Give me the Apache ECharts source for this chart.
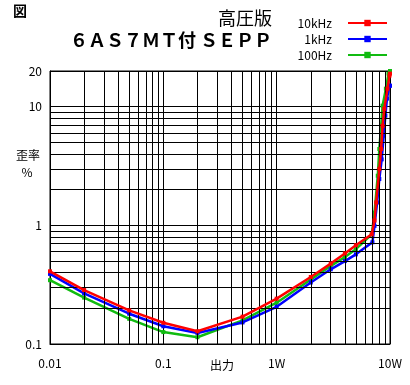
<!DOCTYPE html>
<html><head><meta charset="utf-8">
<script src="https://cdn.jsdelivr.net/npm/echarts@6/dist/echarts.min.js"></script>
<style>html,body{margin:0;padding:0;background:#fff}#c{width:410px;height:385px}</style>
</head><body><div id="c"></div>
<script>
// ---- data ----
const seriesNames = ['10kHz', '1kHz', '100Hz'];
const seriesColors = ['#ff0000', '#0000ff', '#11bb11'];

const power10k = [0.01, 0.02, 0.05, 0.1, 0.2, 0.5, 1, 2, 3, 4, 5, 6.9, 7.3, 7.55, 8.05, 8.35, 8.6, 8.9, 9.5, 9.9, 10];
const thd10k   = [0.41, 0.285, 0.192, 0.151, 0.128, 0.17, 0.241, 0.367, 0.476, 0.58, 0.68, 0.84, 1.1, 1.56, 2.99, 4.41, 6.9, 9.6, 14.2, 18.3, 19];

const power1k  = [0.01, 0.02, 0.05, 0.1, 0.2, 0.5, 1, 2, 3, 4, 5, 7, 7.3, 7.7, 8.05, 8.45, 8.8, 9.1, 9.4, 9.9, 10];
const thd1k    = [0.39, 0.267, 0.18, 0.141, 0.124, 0.152, 0.206, 0.33, 0.426, 0.5, 0.57, 0.72, 0.99, 1.56, 2.46, 3.6, 5.7, 8.4, 11.7, 15.1, 15];

const power100 = [0.01, 0.02, 0.05, 0.1, 0.2, 0.5, 1, 2, 3, 4, 5, 6.9, 7.3, 7.8, 8.05, 8.35, 8.6, 9.2, 9.7, 10];
const thd100   = [0.345, 0.246, 0.163, 0.126, 0.114, 0.158, 0.223, 0.35, 0.455, 0.54, 0.63, 0.84, 1.28, 2.62, 4.4, 6.9, 10.2, 14.2, 19, 20];

const xTickValues = [0.01, 0.1, 1, 10];
const xTickLabels = ['0.01', '0.1', '1W', '10W'];
const yTickValues = [0.1, 1, 10, 20];
const yTickLabels = ['0.1', '1', '10', '20'];
const xMinorGrid = [0.02,0.03,0.04,0.05,0.06,0.07,0.08,0.09, 0.2,0.3,0.4,0.5,0.6,0.7,0.8,0.9, 2,3,4,5,6,7,8,9];
const yMinorGrid = [0.2,0.3,0.4,0.5,0.6,0.7,0.8,0.9, 2,3,4,5,6,7,8,9];

// ---- chart ----
const FONT = '"Noto Sans CJK JP", "Noto Sans", sans-serif';
function pick(vals, labels, v) {
  let best = 0, bd = Infinity;
  vals.forEach((t, i) => { const d = Math.abs(Math.log10(t) - Math.log10(v)); if (d < bd) { bd = d; best = i; } });
  return bd < 0.01 ? labels[best] : '';
}
const pairs = (xs, ys) => xs.map((x, i) => [x, ys[i]]);
const dataSets = [pairs(power10k, thd10k), pairs(power1k, thd1k), pairs(power100, thd100)];

const chart = echarts.init(document.getElementById('c'), null, { renderer: 'canvas' });
chart.setOption({
  backgroundColor: '#fff',
  animation: false,
  textStyle: { fontFamily: FONT },
  grid: { left: 50, right: 20, top: 71, bottom: 41, show: true, borderColor: '#000', borderWidth: 1, containLabel: false },
  legend: {
    orient: 'vertical', right: 22, top: 17, align: 'right', padding: 0,
    itemWidth: 39, itemHeight: 8, itemGap: 4,
    textStyle: { fontSize: 12, lineHeight: 12, color: '#000', fontFamily: FONT, padding: [0, 11, 0, 0] },
    data: seriesNames
  },
  xAxis: {
    type: 'log', logBase: 10, min: 0.01, max: 10,
    axisLine: { show: true, lineStyle: { color: '#000', width: 1 } },
    axisTick: { show: false },
    splitLine: { show: true, lineStyle: { color: '#000', width: 1 } },
    axisLabel: { color: '#000', fontSize: 12, margin: 13, fontFamily: FONT,
      formatter: v => pick(xTickValues, xTickLabels, v) }
  },
  yAxis: {
    type: 'log', logBase: 10, min: 0.1, max: 20,
    axisLine: { show: true, lineStyle: { color: '#000', width: 1 } },
    axisTick: { show: false },
    splitLine: { show: true, lineStyle: { color: '#000', width: 1 } },
    axisLabel: { color: '#000', fontSize: 12, margin: 8, fontFamily: FONT,
      formatter: v => pick(yTickValues, yTickLabels, v) }
  },
  graphic: [
    { type: 'text', style: { text: '図', x: 13, y: 4, font: 'bold 14px ' + FONT, fill: '#000' } },
    { type: 'text', style: { text: '高圧版', x: 272, y: 18, align: 'right', verticalAlign: 'middle', font: '18px ' + FONT, fill: '#000' } },
    { type: 'text', style: { text: '６ＡＳ７ＭＴ付 ＳＥＰＰ', x: 272, y: 40, align: 'right', verticalAlign: 'middle', font: 'bold 18px ' + FONT, fill: '#000' } },
    { type: 'text', style: { text: '歪率', x: 28, y: 155, align: 'center', verticalAlign: 'middle', font: '12px ' + FONT, fill: '#000' } },
    { type: 'text', style: { text: '%', x: 27, y: 172, align: 'center', verticalAlign: 'middle', font: '12px ' + FONT, fill: '#000' } },
    { type: 'text', style: { text: '出力', x: 222, y: 365, align: 'center', verticalAlign: 'middle', font: '12px ' + FONT, fill: '#000' } }
  ],
  series: [
    {
      type: 'line', name: '__grid', data: [], silent: true, z: 1,
      markLine: {
        silent: true, symbol: ['none', 'none'], animation: false,
        label: { show: false }, emphasis: { disabled: true },
        lineStyle: { color: '#000', width: 1, type: 'solid' },
        data: xMinorGrid.map(v => ({ xAxis: v })).concat(yMinorGrid.map(v => ({ yAxis: v })))
      }
    }
  ].concat(seriesNames.map((n, i) => ({
    type: 'line', name: n, data: dataSets[i], z: 3 + (2 - i),
    symbol: 'rect', symbolSize: 4, showAllSymbol: true,
    itemStyle: { color: seriesColors[i] },
    lineStyle: { color: seriesColors[i], width: 2.5 },
    emphasis: { disabled: true }
  })))
});
</script></body></html>
